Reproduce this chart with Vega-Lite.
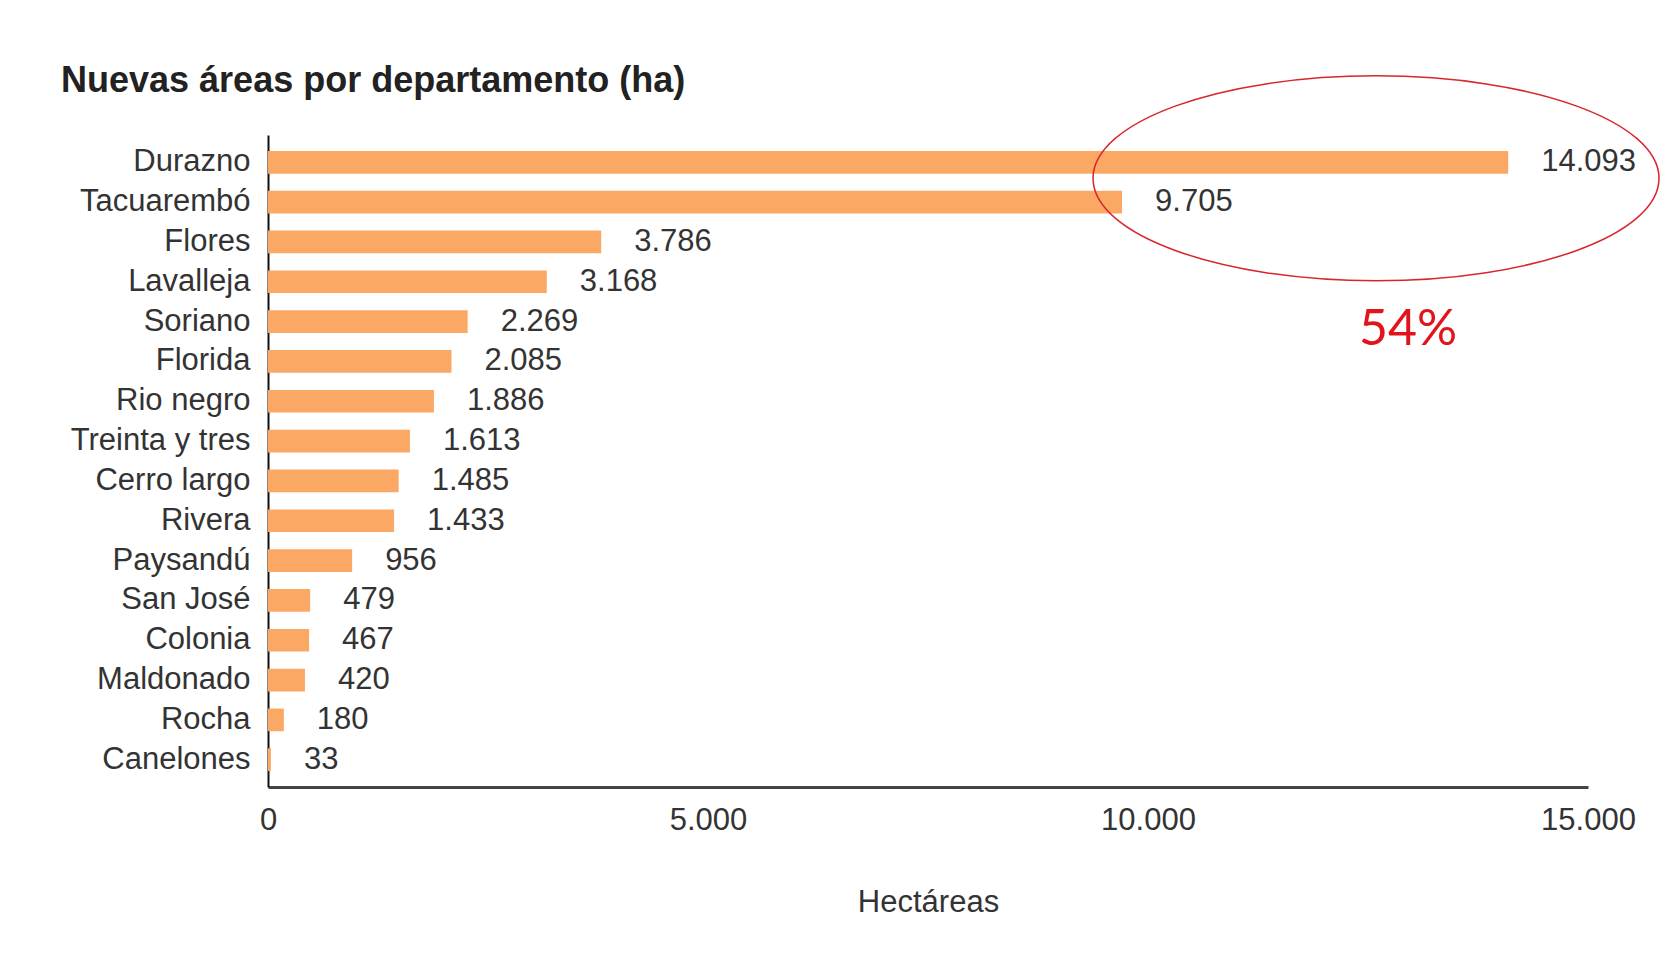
{
  "$schema": "https://vega.github.io/schema/vega-lite/v6.json",
  "width": 1320,
  "height": 652,
  "autosize": {"type": "none"},
  "padding": {"left": 268, "top": 135, "right": 72, "bottom": 177},
  "background": "white",
  "config": {
    "view": {"stroke": null},
    "font": "Liberation Sans",
    "locale": {"number": {"decimal": ",", "thousands": ".", "grouping": [3], "currency": ["", ""]}}
  },
  "title": {
    "text": "Nuevas áreas por departamento (ha)",
    "anchor": "start",
    "frame": "group",
    "dx": -207,
    "dy": 67,
    "offset": 40,
    "fontSize": 36,
    "fontWeight": "bold",
    "color": "#222222",
    "font": "Liberation Sans"
  },
  "datasets": {
    "areas": [
      {"departamento": "Durazno", "ha": 14093},
      {"departamento": "Tacuarembó", "ha": 9705},
      {"departamento": "Flores", "ha": 3786},
      {"departamento": "Lavalleja", "ha": 3168},
      {"departamento": "Soriano", "ha": 2269},
      {"departamento": "Florida", "ha": 2085},
      {"departamento": "Rio negro", "ha": 1886},
      {"departamento": "Treinta y tres", "ha": 1613},
      {"departamento": "Cerro largo", "ha": 1485},
      {"departamento": "Rivera", "ha": 1433},
      {"departamento": "Paysandú", "ha": 956},
      {"departamento": "San José", "ha": 479},
      {"departamento": "Colonia", "ha": 467},
      {"departamento": "Maldonado", "ha": 420},
      {"departamento": "Rocha", "ha": 180},
      {"departamento": "Canelones", "ha": 33}
    ],
    "marca": [
      {"departamento": "Durazno", "ha": 12591}
    ],
    "nota": [
      {"departamento": "Soriano", "ha": 12955, "texto": "54%"}
    ]
  },
  "encoding": {
    "y": {
      "field": "departamento",
      "type": "nominal",
      "sort": null,
      "scale": {"paddingInner": 0.43, "paddingOuter": 0.4},
      "axis": {
        "title": null,
        "ticks": false,
        "domainColor": "#111111",
        "domainWidth": 2,
        "labelFontSize": 31,
        "labelColor": "#333333",
        "labelPadding": 18,
        "labelFont": "Liberation Sans"
      }
    },
    "x": {
      "field": "ha",
      "type": "quantitative",
      "scale": {"domain": [0, 15000], "nice": false, "zero": true},
      "axis": {
        "title": "Hectáreas",
        "titleFontSize": 31,
        "titleFontWeight": "normal",
        "titleColor": "#333333",
        "titlePadding": 52,
        "values": [0, 5000, 10000, 15000],
        "format": ",d",
        "grid": false,
        "ticks": false,
        "domainColor": "#444444",
        "domainWidth": 3,
        "labelFontSize": 31,
        "labelColor": "#333333",
        "labelPadding": 18,
        "labelFlush": false
      }
    }
  },
  "layer": [
    {
      "data": {"name": "areas"},
      "mark": {"type": "bar", "color": "#FCA865"}
    },
    {
      "data": {"name": "areas"},
      "mark": {"type": "text", "align": "left", "baseline": "middle", "dx": 33, "fontSize": 31, "color": "#333333", "font": "Liberation Sans"},
      "encoding": {
        "text": {"field": "ha", "type": "quantitative", "format": ",d"}
      }
    },
    {
      "data": {"name": "marca"},
      "mark": {
        "type": "point",
        "shape": "M-1,0A1,0.362,0,1,0,1,0A1,0.362,0,1,0,-1,0Z",
        "size": 320356,
        "filled": false,
        "stroke": "#D8262E",
        "strokeWidth": 1.5,
        "opacity": 1,
        "yOffset": 16
      }
    },
    {
      "data": {"name": "nota"},
      "mark": {"type": "text", "align": "center", "baseline": "middle", "dy": 8, "fontSize": 50, "color": "#E2141B", "font": "Lato"},
      "encoding": {
        "text": {"field": "texto", "type": "nominal"}
      }
    }
  ]
}
